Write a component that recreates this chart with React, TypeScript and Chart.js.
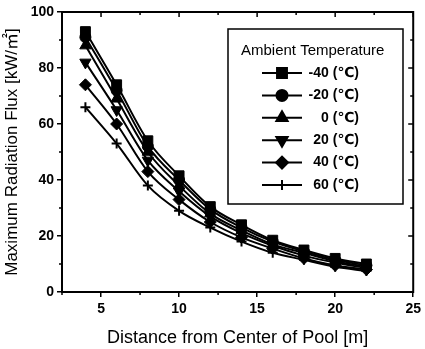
import React, { useEffect, useRef } from "react";
import { Chart, registerables } from "chart.js";
import { drawPoint } from "chart.js/helpers";

Chart.register(...registerables);

const distances = [4, 6, 8, 10, 12, 14, 16, 18, 20, 22];
const tempLabels = ["-40 (℃)", "-20 (℃)", "0 (℃)", "20 (℃)", "40 (℃)", "60 (℃)"];
const fluxM40 = [93, 74, 54, 41.5, 30.5, 24, 18.5, 15, 12, 10];
const fluxM20 = [91, 72, 52, 40, 29.5, 23, 18, 14.5, 11.5, 9.5];
const flux0 = [88, 69, 50, 38, 28, 22, 17, 14, 11, 9];
const flux20 = [82, 65, 47, 36, 27, 21, 16.5, 13, 10.5, 8.5];
const flux40 = [74, 60, 43, 33, 25, 19.5, 15.5, 12, 9.5, 8];
const flux60 = [66, 53, 38, 29, 23, 18, 14, 11.5, 9, 7.5];
const xTicks = [5, 10, 15, 20, 25];
const xMinorTicks = [2.5, 7.5, 12.5, 17.5, 22.5];
const yTicks = [0, 20, 40, 60, 80, 100];
const yMinorTicks = [10, 30, 50, 70, 90];

const FONT = "'Liberation Sans', Arial, 'DejaVu Sans', 'Noto Sans CJK SC', sans-serif";

const markerStyles = [
  { pointStyle: "rect", radius: 7, rotation: 0 },
  { pointStyle: "circle", radius: 5.5, rotation: 0 },
  { pointStyle: "triangle", radius: 6.5, rotation: 0 },
  { pointStyle: "triangle", radius: 6.5, rotation: 180 },
  { pointStyle: "rectRot", radius: 6, rotation: 0 },
  { pointStyle: "cross", radius: 5, rotation: 0 },
];

const seriesValues = [fluxM40, fluxM20, flux0, flux20, flux40, flux60];

const framePlugin = {
  id: "frameAndLegend",
  afterDatasetsDraw(chart: any) {
    const { ctx, chartArea, scales } = chart;
    const xs = scales.x;
    const ys = scales.y;
    ctx.save();
    ctx.strokeStyle = "#000";
    ctx.lineWidth = 2;
    ctx.strokeRect(chartArea.left, chartArea.top, chartArea.right - chartArea.left, chartArea.bottom - chartArea.top);
    ctx.lineWidth = 1.5;
    ctx.beginPath();
    xTicks.forEach((v) => {
      const px = xs.getPixelForValue(v);
      ctx.moveTo(px, chartArea.top);
      ctx.lineTo(px, chartArea.top + 5);
    });
    xMinorTicks.forEach((v) => {
      const px = xs.getPixelForValue(v);
      ctx.moveTo(px, chartArea.top);
      ctx.lineTo(px, chartArea.top + 3);
      ctx.moveTo(px, chartArea.bottom);
      ctx.lineTo(px, chartArea.bottom + 3);
    });
    yTicks.forEach((v) => {
      const py = ys.getPixelForValue(v);
      ctx.moveTo(chartArea.right, py);
      ctx.lineTo(chartArea.right - 5, py);
    });
    yMinorTicks.forEach((v) => {
      const py = ys.getPixelForValue(v);
      ctx.moveTo(chartArea.right, py);
      ctx.lineTo(chartArea.right - 3, py);
      ctx.moveTo(chartArea.left, py);
      ctx.lineTo(chartArea.left - 3, py);
    });
    ctx.stroke();

    // legend
    const bx = 228, by = 29, bw = 175, bh = 175;
    ctx.fillStyle = "#fff";
    ctx.fillRect(bx, by, bw, bh);
    ctx.lineWidth = 1.5;
    ctx.strokeRect(bx, by, bw, bh);
    ctx.fillStyle = "#000";
    ctx.font = `15px ${FONT}`;
    ctx.textAlign = "left";
    ctx.textBaseline = "middle";
    ctx.fillText("Ambient Temperature", 241, 51);
    chart.data.datasets.forEach((ds: any, i: number) => {
      const ry = 73 + i * 22.4;
      ctx.lineWidth = 2;
      ctx.strokeStyle = "#000";
      ctx.beginPath();
      ctx.moveTo(262, ry);
      ctx.lineTo(302, ry);
      ctx.stroke();
      ctx.fillStyle = "#000";
      drawPoint(ctx, {
        pointStyle: ds.pointStyle,
        radius: ds.pointRadius,
        rotation: ds.pointRotation || 0,
        borderWidth: ds.pointBorderWidth,
      }, 282, ry);
      ctx.fillStyle = "#000";
      ctx.font = `bold 14px ${FONT}`;
      ctx.textAlign = "right";
      ctx.fillText(ds.label, 359, ry);
    });
    ctx.restore();
  },
};

export default function App() {
  const ref = useRef<HTMLCanvasElement>(null);
  useEffect(() => {
    if (!ref.current) return;
    const chart = new Chart(ref.current, {
      type: "line",
      data: {
        datasets: seriesValues.map((vals, i) => ({
          label: tempLabels[i],
          data: distances.map((d, j) => ({ x: d, y: vals[j] })),
          borderColor: "#000",
          backgroundColor: "#000",
          borderWidth: 2,
          pointStyle: markerStyles[i].pointStyle,
          pointRadius: markerStyles[i].radius,
          pointRotation: markerStyles[i].rotation,
          pointBackgroundColor: "#000",
          pointBorderColor: "#000",
          pointBorderWidth: markerStyles[i].pointStyle === "cross" ? 2 : 1,
          cubicInterpolationMode: "monotone",
          fill: false,
        })),
      },
      options: {
        responsive: false,
        animation: false,
        layout: { padding: { top: 12, right: 8, left: 0, bottom: 0 } },
        plugins: { legend: { display: false }, tooltip: { enabled: false } },
        scales: {
          x: {
            type: "linear",
            min: 2.5,
            max: 25,
            afterBuildTicks: (s: any) => {
              s.ticks = xTicks.map((v) => ({ value: v }));
            },
            afterFit: (s: any) => {
              s.height = 57;
            },
            ticks: { color: "#000", font: { family: FONT, size: 14, weight: "bold" }, padding: 4, maxRotation: 0 },
            grid: { display: true, drawOnChartArea: false, drawTicks: true, tickLength: 5, color: "#000", lineWidth: 1.5 },
            border: { display: true, color: "#000", width: 2 },
            title: { display: true, text: "Distance from Center of Pool [m]", color: "#000", font: { family: FONT, size: 18 }, padding: { top: 0, bottom: 0 } },
          },
          y: {
            type: "linear",
            min: 0,
            max: 100,
            afterBuildTicks: (s: any) => {
              s.ticks = yTicks.map((v) => ({ value: v }));
            },
            afterFit: (s: any) => {
              s.width = 62;
            },
            ticks: { color: "#000", font: { family: FONT, size: 14, weight: "bold" }, padding: 3 },
            grid: { display: true, drawOnChartArea: false, drawTicks: true, tickLength: 5, color: "#000", lineWidth: 1.5 },
            border: { display: true, color: "#000", width: 2 },
            title: { display: true, text: "Maximum Radiation Flux [kW/㎡]", color: "#000", font: { family: FONT, size: 17 }, padding: { top: 2, bottom: 0 } },
          },
        },
      },
      plugins: [framePlugin],
    } as any);
    return () => chart.destroy();
  }, []);
  return (
    <div style={{ position: "absolute", left: 0, top: 0, width: 425, height: 349, background: "#fff" }}>
      <canvas ref={ref} width={425} height={349} />
    </div>
  );
}
